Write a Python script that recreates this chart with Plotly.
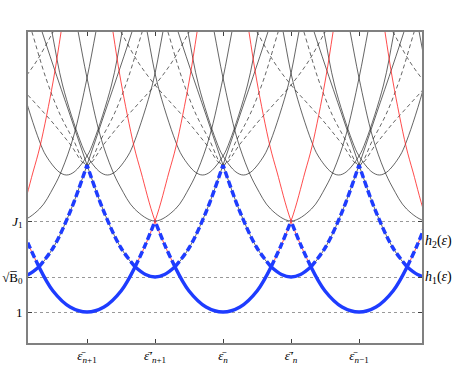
import plotly.graph_objects as go

# lattice: eps-bar points sit on even x, eps-prime points on odd x
bar_centres = [-6, -4, -2, 0, 2, 4, 6]
prime_centres = [-5, -3, -1, 1, 3, 5]
split_centres = [c + s for c in bar_centres for s in (-0.3, 0.3)]

# horizontal levels (1, sqrt(B0), J1)
y_levels = [1.0, 1.35, 1.91]
y_labels = ['1', '√B̅<sub>0</sub>', '<i>J</i><sub>1</sub>']

x_ticks = [-2, -1, 0, 1, 2]
x_labels = ['<i>ε̄</i><sub><i>n</i>+1</sub>', '<i>ε̄′</i><sub><i>n</i>+1</sub>',
            '<i>ε̄</i><sub><i>n</i></sub>', '<i>ε̄′</i><sub><i>n</i></sub>',
            '<i>ε̄</i><sub><i>n</i>−1</sub>']

# half profiles: distance from centre -> height
bowl_dx = [0, 0.25, 0.5, 0.706, 1.0, 1.206, 1.31, 1.5, 1.618, 1.75]
bowl_y = [1.00, 1.05, 1.21, 1.45, 1.91, 2.40, 2.66, 3.30, 3.80, 4.40]

bump_dx = [0, 0.14, 0.29, 0.5, 0.75, 1.0, 1.25, 1.5, 1.66, 1.8]
bump_y = [1.35, 1.375, 1.45, 1.64, 2.00, 2.47, 2.97, 3.47, 3.80, 4.10]

jpar_dx = [0, 0.3, 0.51, 0.63, 0.8, 1.0, 1.13, 1.3]
jpar_y = [1.91, 2.03, 2.25, 2.42, 2.75, 3.34, 3.80, 4.40]

split_dx = [0, 0.11, 0.3, 0.4, 0.66, 0.81, 1.0]
split_y = [2.37, 2.40, 2.56, 2.71, 3.27, 3.78, 4.47]

steep_dx = [0, 0.2, 0.4, 0.6, 0.81, 0.9]
steep_y = [2.47, 2.72, 2.98, 3.33, 3.80, 4.00]

wide_dx = [0, 0.25, 0.5, 0.75, 1.0, 1.25, 1.5, 1.7]
wide_y = [2.47, 2.68, 2.89, 3.08, 3.27, 3.50, 3.80, 4.05]

# h1 pieces
h1_bowl_dx = [0, 0.25, 0.5, 0.706]
h1_bowl_y = [1.00, 1.05, 1.21, 1.45]
h1_bump_dx = [0, 0.14, 0.29]
h1_bump_y = [1.35, 1.375, 1.45]

# h2 pieces
h2_bump_dx = [0.29, 0.5, 0.75, 1.0]
h2_bump_y = [1.45, 1.64, 2.00, 2.47]
h2_bowl_dx = [0.706, 0.85, 1.0]
h2_bowl_y = [1.45, 1.66, 1.91]


def mirrored(centres, dx, dy):
    xs, ys = [], []
    for c in centres:
        xs += [c - d for d in dx[::-1]] + [c + d for d in dx[1:]]
        ys += list(dy[::-1]) + list(dy[1:])
        xs.append(None)
        ys.append(None)
    return xs, ys


def arms(centres, dx, dy):
    xs, ys = [], []
    for c in centres:
        for s in (-1, 1):
            xs += [c + s * d for d in dx]
            ys += list(dy)
            xs.append(None)
            ys.append(None)
    return xs, ys


thin = dict(color='#222222', width=0.7, shape='spline')
fig = go.Figure()

x, y = mirrored(prime_centres, bump_dx, bump_y)
fig.add_trace(go.Scatter(x=x, y=y, mode='lines', line=thin))
x, y = mirrored(prime_centres, jpar_dx, jpar_y)
fig.add_trace(go.Scatter(x=x, y=y, mode='lines', line=thin))
x, y = mirrored(split_centres, split_dx, split_y)
fig.add_trace(go.Scatter(x=x, y=y, mode='lines', line=thin))
x, y = mirrored(bar_centres, steep_dx, steep_y)
fig.add_trace(go.Scatter(x=x, y=y, mode='lines', line=dict(thin, dash='4px,3px')))
x, y = mirrored(bar_centres, wide_dx, wide_y)
fig.add_trace(go.Scatter(x=x, y=y, mode='lines', line=dict(thin, dash='4px,3px')))
x, y = mirrored(bar_centres, bowl_dx, bowl_y)
fig.add_trace(go.Scatter(x=x, y=y, mode='lines',
                         line=dict(color='rgb(255,30,30)', width=0.8, shape='spline')))

blue = 'rgb(30,60,255)'
x1, y1 = mirrored(bar_centres, h1_bowl_dx, h1_bowl_y)
x2, y2 = mirrored(prime_centres, h1_bump_dx, h1_bump_y)
fig.add_trace(go.Scatter(x=x1 + x2, y=y1 + y2, mode='lines',
                         line=dict(color=blue, width=3.5, shape='spline')))
x1, y1 = arms(prime_centres, h2_bump_dx, h2_bump_y)
x2, y2 = arms(bar_centres, h2_bowl_dx, h2_bowl_y)
fig.add_trace(go.Scatter(x=x1 + x2, y=y1 + y2, mode='lines',
                         line=dict(color=blue, width=3.5, shape='spline', dash='7px,3px')))

for txt, yy in [('<i>h</i><sub>2</sub>(<i>ε</i>)', 1.71), ('<i>h</i><sub>1</sub>(<i>ε</i>)', 1.35)]:
    fig.add_annotation(x=1.0, xref='paper', y=yy, yref='y', text=txt, showarrow=False,
                       xanchor='left', xshift=1, font=dict(size=14))

fig.update_xaxes(range=[-2.868, 2.926], tickvals=x_ticks, ticktext=x_labels,
                 ticks='inside', ticklen=4, mirror='ticks', showline=True,
                 linecolor='#808080', linewidth=1.6, tickcolor='#404040',
                 showgrid=False, zeroline=False, tickfont=dict(size=13),
                 automargin=False)
fig.update_yaxes(range=[0.69, 3.80], tickvals=y_levels, ticktext=y_labels,
                 ticks='inside', ticklen=4, mirror='ticks', showline=True,
                 linecolor='#808080', linewidth=1.6, tickcolor='#404040',
                 showgrid=True, gridcolor='#999999', griddash='dot', gridwidth=1,
                 zeroline=False, tickfont=dict(size=13), ticklabelstandoff=1,
                 automargin=False)
fig.update_layout(width=461, height=368, margin=dict(l=28, r=39, t=32, b=25),
                  showlegend=False, plot_bgcolor='white', paper_bgcolor='white',
                  font=dict(family='Liberation Serif', color='black'))
# drop the default 8px page margin so the figure fills the window exactly
fig.write_html("out.html", config={'displayModeBar': False},
               post_script="document.body.style.margin='0px';")
